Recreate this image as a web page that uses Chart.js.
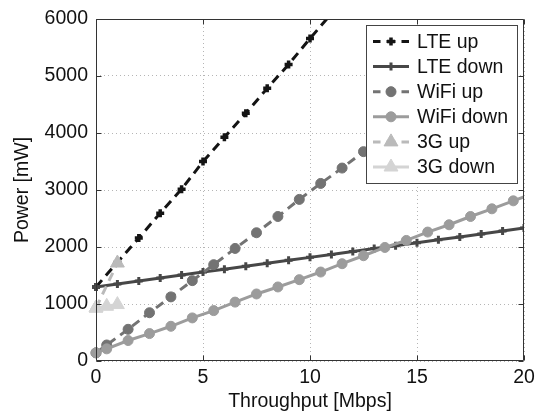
<!DOCTYPE html>
<html>
<head>
<meta charset="utf-8">
<script src="https://cdn.jsdelivr.net/npm/chart.js@4"></script>
<style>
  html, body { margin: 0; background: #fff; }
</style>
</head>
<body>
<canvas id="chart" width="536" height="417"></canvas>
<script>
// ── Data ───────────────────────────────────────
const lteX       = [0, 1, 2, 3, 4, 5, 6, 7, 8, 9, 10, 11];
const lteUp      = [1300, 1730, 2157, 2594, 3015, 3498, 3925, 4345, 4783, 5203, 5658, 6095];
const lteDownX   = [0, 1, 2, 3, 4, 5, 6, 7, 8, 9, 10, 11, 12, 13, 14, 15, 16, 17, 18, 19, 20];
const lteDown    = [1300, 1352, 1404, 1456, 1508, 1560, 1611, 1662, 1714, 1766, 1818, 1869, 1920, 1972, 2023, 2074, 2126, 2177, 2228, 2280, 2332];
const wifiUpX    = [0, 0.5, 1.5, 2.5, 3.5, 4.5, 5.5, 6.5, 7.5, 8.5, 9.5, 10.5, 11.5, 12.5, 13.5, 14.5, 15.5];
const wifiUp     = [143, 281, 556, 847, 1125, 1410, 1690, 1975, 2250, 2535, 2835, 3115, 3385, 3673, 3955, 4240, 4520];
const wifiDownX  = [0, 0.5, 1.5, 2.5, 3.5, 4.5, 5.5, 6.5, 7.5, 8.5, 9.5, 10.5, 11.5, 12.5, 13.5, 14.5, 15.5, 16.5, 17.5, 18.5, 19.5, 20.5];
const wifiDown   = [143, 213, 359, 481, 609, 756, 884, 1033, 1176, 1299, 1427, 1561, 1707, 1847, 1992, 2115, 2262, 2390, 2535, 2670, 2810, 2950];
const g3UpX      = [0, 1];
const g3Up       = [930, 1719];
const g3DownX    = [0, 0.5, 1];
const g3Down     = [930, 960, 990];

const labels = ['LTE up', 'LTE down', 'WiFi up', 'WiFi down', '3G up', '3G down'];
const xTicks = [0, 5, 10, 15, 20];
const yTicks = [0, 1000, 2000, 3000, 4000, 5000, 6000];

const FONT = 'Liberation Sans, Arial, Helvetica, sans-serif';
const FONT_SIZE = 19.5;
const TEXT = '#111';

const pts = (xs, ys) => xs.map((x, i) => ({ x, y: ys[i] }));

function series(i, xs, ys, color, dashed, style, radius, pbw) {
  return {
    label: labels[i],
    data: pts(xs, ys),
    showLine: true,
    borderColor: color,
    backgroundColor: color,
    borderWidth: 3,
    borderDash: dashed ? [9, 6] : [],
    pointStyle: style,
    pointRadius: radius,
    pointHoverRadius: radius,
    pointBorderWidth: pbw,
    pointBackgroundColor: color,
    pointBorderColor: color,
    order: 10 - i,          // later series drawn on top, like the original
    clip: { left: 10, top: 0, right: 0, bottom: 10 },
  };
}

// ── Marker drawing for the legend ──────────────
function marker(ctx, style, r, x, y) {
  ctx.beginPath();
  if (style === 'circle') {
    ctx.arc(x, y, r, 0, Math.PI * 2);
    ctx.fill(); ctx.stroke();
  } else if (style === 'cross') {
    ctx.moveTo(x - r, y); ctx.lineTo(x + r, y);
    ctx.moveTo(x, y - r); ctx.lineTo(x, y + r);
    ctx.stroke();
  } else if (style === 'triangle') {
    ctx.moveTo(x, y - r);
    ctx.lineTo(x + r * 0.866, y + r * 0.5);
    ctx.lineTo(x - r * 0.866, y + r * 0.5);
    ctx.closePath();
    ctx.fill(); ctx.stroke();
  }
}

// ── Legend box inside the plot (opaque, like MATLAB) ──
const boxLegend = {
  id: 'boxLegend',
  afterDatasetsDraw(chart) {
    const { ctx, chartArea: a } = chart;
    const w = 151, h = 158, rowH = 25.1;
    const x0 = Math.round(a.right - 158), y0 = Math.round(a.top + 6);
    ctx.save();
    ctx.fillStyle = '#fff';
    ctx.fillRect(x0, y0, w, h);
    ctx.strokeStyle = '#444';
    ctx.lineWidth = 1;
    ctx.strokeRect(x0 + 0.5, y0 + 0.5, w, h);
    chart.data.datasets.forEach((ds, i) => {
      const cy = y0 + 16.5 + i * rowH;
      const lx = x0 + 7, len = 36, mx = lx + len / 2;
      ctx.save();
      ctx.strokeStyle = ds.borderColor;
      ctx.lineWidth = ds.borderWidth;
      ctx.setLineDash(ds.borderDash);
      ctx.lineDashOffset = 1.5;
      ctx.beginPath(); ctx.moveTo(lx, cy); ctx.lineTo(lx + len, cy); ctx.stroke();
      ctx.setLineDash([]);
      ctx.fillStyle = ds.pointBackgroundColor;
      ctx.lineWidth = ds.pointBorderWidth;
      marker(ctx, ds.pointStyle, ds.pointRadius, mx, cy);
      ctx.restore();
      ctx.fillStyle = TEXT;
      ctx.font = FONT_SIZE + 'px ' + FONT;
      ctx.textBaseline = 'middle';
      ctx.textAlign = 'left';
      ctx.fillText(ds.label, x0 + 51, cy + 1);
    });
    ctx.restore();
  }
};

// ── Box around the axes with inward ticks ──────
const frame = {
  id: 'frame',
  afterDraw(chart) {
    const { ctx, chartArea: a, scales: { x, y } } = chart;
    const L = Math.round(a.left) + 0.5, R = Math.round(a.right) - 0.5;
    const T = Math.round(a.top) + 0.5, B = Math.round(a.bottom) - 0.5;
    ctx.save();
    ctx.strokeStyle = '#333';
    ctx.lineWidth = 1;
    ctx.beginPath();
    ctx.rect(L, T, R - L, B - T);
    x.ticks.forEach(t => {
      const px = Math.round(x.getPixelForValue(t.value)) + 0.5;
      ctx.moveTo(px, B); ctx.lineTo(px, B - 5);
      ctx.moveTo(px, T); ctx.lineTo(px, T + 5);
    });
    y.ticks.forEach(t => {
      const py = Math.round(y.getPixelForValue(t.value)) + 0.5;
      ctx.moveTo(L, py); ctx.lineTo(L + 5, py);
      ctx.moveTo(R, py); ctx.lineTo(R - 5, py);
    });
    ctx.stroke();
    ctx.restore();
  }
};

const datasets = [
  series(0, lteX, lteUp, '#141414', true, 'cross', 4, 3.5),
  series(1, lteDownX, lteDown, '#474747', false, 'cross', 4, 3),
  series(2, wifiUpX, wifiUp, '#737373', true, 'circle', 5, 1),
  series(3, wifiDownX, wifiDown, '#9c9c9c', false, 'circle', 5, 1),
  series(4, g3UpX, g3Up, '#bababa', true, 'triangle', 8, 1),
  series(5, g3DownX, g3Down, '#d4d4d4', false, 'triangle', 8, 1),
];

const tickFont = { family: FONT, size: FONT_SIZE };

new Chart(document.getElementById('chart'), {
  type: 'scatter',
  data: { datasets },
  options: {
    responsive: false,
    animation: false,
    layout: { padding: { top: 19, right: 12, left: 0, bottom: 0 } },
    plugins: { legend: { display: false }, tooltip: { enabled: false } },
    scales: {
      x: {
        type: 'linear', min: 0, max: 20,
        afterBuildTicks: s => { s.ticks = xTicks.map(v => ({ value: v })); },
        afterFit: s => { s.height = 56; s.paddingLeft = 0; s.paddingRight = 0; },
        ticks: { font: tickFont, color: TEXT, padding: 5, callback: v => String(v) },
        grid: { color: '#b5b5b5', drawTicks: false },
        border: { display: false, dash: [1, 3] },
        title: { display: true, text: 'Throughput [Mbps]', font: tickFont, color: TEXT, padding: { top: 0, bottom: 4 } },
      },
      y: {
        type: 'linear', min: 0, max: 6000,
        afterBuildTicks: s => { s.ticks = yTicks.map(v => ({ value: v })); },
        afterFit: s => { s.width = 96; s.paddingTop = 0; s.paddingBottom = 0; },
        ticks: { font: tickFont, color: TEXT, padding: 8, callback: v => String(v) },
        grid: { color: '#b5b5b5', drawTicks: false },
        border: { display: false, dash: [1, 3] },
        title: { display: true, text: 'Power [mW]', font: tickFont, color: TEXT, padding: { top: 11, bottom: 0 } },
      },
    },
  },
  plugins: [boxLegend, frame],
});
</script>
</body>
</html>
